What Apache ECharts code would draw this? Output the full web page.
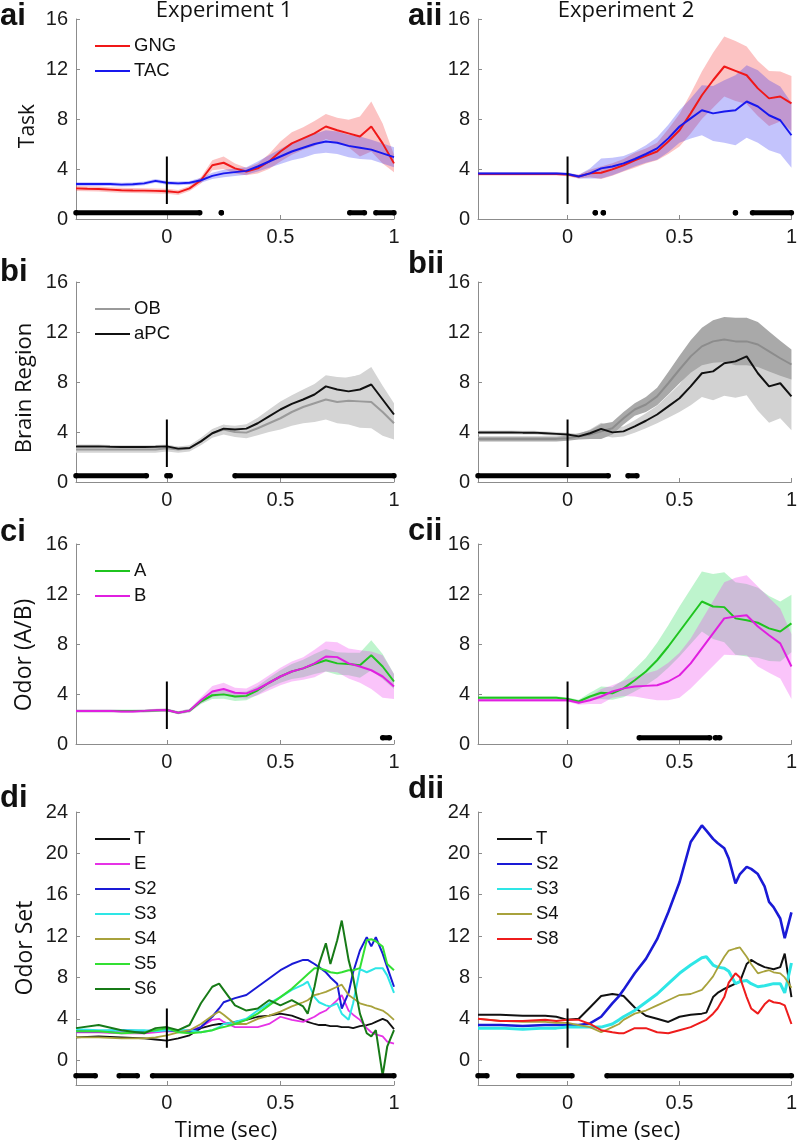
<!DOCTYPE html>
<html><head><meta charset="utf-8">
<script src="https://cdn.jsdelivr.net/npm/echarts@6/dist/echarts.min.js"></script>
<style>html,body{margin:0;padding:0;background:#fff}#c{width:800px;height:1143px}</style>
</head><body><div id="c"></div>
<script>
// ---------- DATA ----------
// time grid for rows a-c (sec)
const T = [-0.4,-0.35,-0.3,-0.25,-0.2,-0.15,-0.1,-0.05,0,0.05,0.1,0.15,0.2,0.25,0.3,0.35,0.4,0.45,0.5,0.55,0.6,0.65,0.7,0.75,0.8,0.85,0.9,0.95,1];
// time grid for row d (sec)
const TD = [-0.4,-0.3,-0.2,-0.1,-0.05,0,0.05,0.1,0.15,0.2,0.23,0.25,0.3,0.35,0.4,0.45,0.5,0.55,0.6,0.62,0.65,0.67,0.7,0.72,0.75,0.77,0.8,0.82,0.85,0.88,0.9,0.92,0.95,0.97,1];
const X_TICKS = [0, 0.5, 1];
const Y_TICKS = [0, 4, 8, 12, 16];
const Y_TICKS_D = [0, 4, 8, 12, 16, 20, 24];

// ai  (Experiment 1, Task)
const ai_GNG     = [2.45,2.42,2.4,2.35,2.3,2.28,2.27,2.25,2.22,2.13,2.45,3.1,4.3,4.5,4.05,3.8,4.05,4.6,5.4,6.05,6.45,6.85,7.4,7.1,6.85,6.6,7.4,6.05,4.45];
const ai_GNG_sem = [0.2,0.2,0.2,0.2,0.2,0.2,0.2,0.2,0.2,0.2,0.2,0.25,0.4,0.5,0.4,0.3,0.4,0.6,0.8,0.9,0.9,1.0,1.0,1.0,1.1,1.6,2.0,1.6,0.7];
const ai_TAC     = [2.8,2.8,2.8,2.8,2.75,2.78,2.85,3.05,2.9,2.85,2.9,3.1,3.45,3.65,3.75,3.85,4.2,4.6,5.0,5.4,5.7,6.0,6.2,6.1,5.85,5.7,5.55,5.25,4.95];
const ai_TAC_sem = [0.15,0.15,0.15,0.15,0.15,0.15,0.15,0.15,0.15,0.15,0.15,0.2,0.25,0.3,0.3,0.3,0.4,0.5,0.6,0.7,0.8,0.8,0.9,0.9,0.9,0.9,0.8,0.8,0.8];
// aii (Experiment 2, Task)
const aii_GNG     = [3.6,3.6,3.6,3.6,3.6,3.6,3.6,3.6,3.55,3.4,3.65,3.7,3.97,4.3,4.7,5.05,5.4,6.2,7.1,8.45,9.9,11.1,12.2,11.85,11.5,10.45,9.65,9.8,9.25];
const aii_GNG_sem = [0.12,0.12,0.12,0.12,0.12,0.12,0.12,0.12,0.12,0.15,0.3,0.5,0.5,0.5,0.6,0.6,0.7,1.0,1.3,1.6,1.9,2.2,2.4,2.4,2.3,2.2,2.2,2.0,2.2];
const aii_TAC     = [3.65,3.65,3.65,3.65,3.65,3.65,3.65,3.65,3.6,3.4,3.65,4.05,4.2,4.45,4.8,5.2,5.65,6.45,7.4,8.05,8.7,8.45,8.6,8.7,9.4,9.0,8.3,7.9,6.7];
const aii_TAC_sem = [0.1,0.1,0.1,0.1,0.1,0.1,0.1,0.1,0.1,0.15,0.4,0.8,0.7,0.6,0.6,0.7,0.9,1.1,1.3,1.6,2.0,2.2,2.5,2.8,2.9,2.9,2.8,2.7,2.6];
// bi (Experiment 1, Brain Region)
const bi_OB      = [2.6,2.6,2.6,2.6,2.6,2.6,2.6,2.6,2.7,2.6,2.7,3.25,3.9,4.2,4.0,3.95,4.3,4.7,5.1,5.6,6.0,6.3,6.6,6.4,6.5,6.45,6.4,5.6,4.7];
const bi_OB_sem  = [0.25,0.25,0.25,0.25,0.25,0.25,0.25,0.25,0.25,0.25,0.25,0.3,0.35,0.4,0.4,0.45,0.55,0.7,0.9,1.1,1.3,1.5,1.6,1.7,1.9,2.1,2.1,1.9,1.3];
const bi_aPC     = [2.85,2.85,2.85,2.82,2.8,2.8,2.8,2.82,2.85,2.67,2.72,3.25,3.9,4.27,4.2,4.27,4.7,5.25,5.8,6.25,6.6,7.0,7.65,7.4,7.25,7.4,7.8,6.6,5.4];
const bi_aPC_sem = [0.15,0.15,0.15,0.15,0.15,0.15,0.15,0.15,0.15,0.15,0.15,0.2,0.3,0.3,0.3,0.35,0.45,0.55,0.65,0.7,0.8,0.85,0.9,1.0,1.1,1.2,1.4,1.1,0.9];
// bii (Experiment 2, Brain Region)
const bii_OB      = [3.45,3.45,3.45,3.45,3.45,3.45,3.45,3.45,3.5,3.65,3.8,4.05,4.3,5.1,5.8,6.2,6.85,7.9,9.0,10.05,10.85,11.25,11.4,11.25,11.25,11.0,10.45,9.9,9.4];
const bii_OB_sem  = [0.2,0.2,0.2,0.2,0.2,0.2,0.2,0.2,0.2,0.25,0.35,0.6,0.5,0.5,0.5,0.6,0.7,0.9,1.1,1.3,1.5,1.7,1.8,1.9,1.9,1.8,1.6,1.4,1.2];
const bii_aPC     = [3.97,3.97,3.97,3.97,3.95,3.95,3.9,3.85,3.8,3.65,3.9,4.25,3.97,4.05,4.45,4.9,5.4,6.05,6.7,7.65,8.7,8.85,9.5,9.65,10.05,8.7,7.65,7.9,6.85];
const bii_aPC_sem = [0.15,0.15,0.15,0.15,0.15,0.15,0.15,0.15,0.15,0.2,0.3,0.5,0.4,0.4,0.5,0.6,0.7,0.9,1.1,1.5,1.9,2.3,2.6,2.9,3.1,3.0,2.9,2.8,2.7];
// ci (Experiment 1, Odor A/B)
const ci_A     = [2.65,2.65,2.65,2.65,2.65,2.65,2.65,2.68,2.72,2.5,2.67,3.4,3.9,3.97,3.8,3.85,4.3,4.9,5.4,5.8,6.05,6.4,6.7,6.45,6.4,6.3,7.1,6.2,5.0];
const ci_A_sem = [0.12,0.12,0.12,0.12,0.12,0.12,0.12,0.12,0.12,0.12,0.15,0.2,0.3,0.35,0.35,0.35,0.35,0.4,0.5,0.6,0.7,0.8,0.9,0.9,0.9,1.0,1.2,1.0,0.6];
const ci_B     = [2.65,2.65,2.65,2.65,2.6,2.6,2.65,2.7,2.72,2.5,2.67,3.5,4.2,4.4,4.1,4.05,4.4,4.9,5.4,5.8,6.05,6.45,7.0,6.95,6.45,6.2,5.9,5.4,4.6];
const ci_B_sem = [0.12,0.12,0.12,0.12,0.12,0.12,0.12,0.12,0.12,0.12,0.15,0.25,0.45,0.5,0.4,0.4,0.5,0.6,0.7,0.8,0.9,1.1,1.2,1.2,1.2,1.3,1.5,1.7,1.0];
// cii (Experiment 2, Odor A/B)
const cii_A     = [3.7,3.7,3.7,3.7,3.7,3.7,3.7,3.7,3.6,3.4,3.8,4.1,4.05,4.45,5.1,5.8,6.7,7.8,9.0,10.2,11.4,11.0,10.95,10.05,9.9,9.7,9.25,9.0,9.65];
const cii_A_sem = [0.12,0.12,0.12,0.12,0.12,0.12,0.12,0.12,0.12,0.15,0.3,0.5,0.5,0.7,0.9,1.1,1.4,1.7,2.0,2.2,2.4,2.6,2.8,2.9,2.9,2.8,2.6,2.4,2.3];
const cii_B     = [3.5,3.5,3.5,3.5,3.5,3.5,3.5,3.5,3.5,3.3,3.5,3.8,4.2,4.45,4.6,4.65,4.7,5.0,5.5,6.45,7.65,8.85,10.05,10.2,10.3,9.4,8.7,8.05,6.2];
const cii_B_sem = [0.12,0.12,0.12,0.12,0.12,0.12,0.12,0.12,0.12,0.15,0.3,0.6,0.5,0.6,0.8,1.0,1.2,1.5,1.8,2.0,2.3,2.6,2.9,3.1,3.2,3.2,3.0,2.8,2.6];
// di (Experiment 1, Odor Set)
const di_T  = [2.2,2.3,2.2,2.1,2.0,1.9,2.1,2.4,3.1,3.4,3.5,3.5,3.7,3.9,4.2,4.3,4.5,4.3,3.9,3.7,3.5,3.4,3.4,3.3,3.3,3.2,3.2,3.1,3.3,3.4,3.5,3.7,4.0,3.8,3.0];
const di_E  = [2.7,2.7,2.6,2.6,2.7,2.8,2.8,2.9,3.2,3.9,4.0,3.7,3.2,3.2,3.2,3.5,4.2,3.9,3.7,3.9,4.2,4.5,4.8,5.2,5.8,6.3,4.8,4.4,3.9,3.1,2.7,2.5,2.3,1.8,1.6];
const di_S2 = [2.8,2.8,2.9,2.8,2.9,2.9,2.8,2.7,3.2,4.2,5.0,5.6,6.0,6.3,7.1,7.9,8.7,9.3,9.7,9.7,9.3,9.0,8.5,8.0,7.4,5.0,6.5,8.5,10.6,11.9,11.0,11.9,10.3,9.0,7.1];
const di_S3 = [3.0,2.9,2.9,2.9,2.8,2.9,2.9,2.9,2.7,2.9,3.2,3.5,3.7,4.0,4.8,5.5,6.1,6.8,7.3,7.6,6.1,5.6,5.3,5.2,5.5,4.5,3.9,5.5,8.8,8.5,8.7,8.9,8.9,8.2,6.5];
const di_S4 = [2.2,2.2,2.1,2.1,2.2,2.4,2.7,2.9,3.5,4.3,4.7,4.4,3.5,3.5,4.0,4.3,4.7,5.2,5.6,5.8,6.3,6.4,6.6,6.8,7.1,7.3,6.3,6.0,5.5,5.3,5.2,5.0,4.8,4.5,3.9];
const di_S5 = [2.8,2.8,2.6,2.7,2.9,3.1,2.7,2.6,2.7,2.9,3.1,3.2,3.5,3.9,4.5,5.3,6.1,6.9,7.9,8.3,8.9,8.9,8.7,8.5,8.4,8.5,8.7,8.7,8.9,11.6,11.7,11.5,11.0,9.3,8.7];
const di_S6 = [3.1,3.4,2.9,2.6,3.1,3.2,2.9,3.4,5.5,7.1,7.4,6.8,5.3,4.8,5.0,5.8,5.3,5.8,5.2,4.5,7.1,9.3,11.3,9.3,11.6,13.5,9.7,8.0,4.5,2.6,2.3,2.9,-1.5,1.3,2.9];
// dii (Experiment 2, Odor Set)
const dii_T  = [4.4,4.4,4.3,4.3,4.2,3.9,4.0,5.1,6.2,6.4,6.3,6.2,5.1,4.3,4.0,3.7,4.2,4.4,4.5,4.6,6.1,6.5,6.9,7.1,7.4,7.6,9.3,9.7,9.3,9.0,8.9,8.8,9.0,10.3,6.1];
const dii_S2 = [3.4,3.4,3.3,3.4,3.4,3.4,3.4,3.55,4.2,5.5,6.2,6.8,8.4,9.8,11.7,14.3,17.2,21.1,22.7,22.2,21.4,21.0,20.5,19.5,17.1,18.0,18.7,18.5,18.0,16.8,15.3,14.8,13.7,11.8,14.3];
const dii_S3 = [3.1,3.1,3.0,3.1,3.1,3.2,3.2,3.2,3.2,3.5,3.9,4.2,4.8,5.6,6.4,7.4,8.4,9.2,9.9,10.0,9.2,9.0,8.9,8.6,7.4,7.6,7.7,7.4,7.1,7.2,7.3,7.4,7.4,6.5,9.4];
const dii_S4 = [4.0,3.8,3.7,3.7,3.6,3.6,3.4,3.2,2.7,3.2,3.5,3.9,4.5,4.8,5.3,5.8,6.3,6.4,6.8,7.3,8.1,8.9,10.0,10.6,10.8,10.9,10.0,9.3,8.4,8.6,8.7,8.5,8.4,8.0,7.0];
const dii_S8 = [4.0,3.8,3.8,3.9,3.8,3.9,3.9,3.5,2.9,2.7,2.6,2.6,3.1,3.1,2.7,2.6,2.9,3.2,3.7,3.9,4.5,5.0,6.1,7.5,8.4,8.0,6.1,5.0,4.5,5.4,5.8,5.6,5.5,5.3,3.5];
// significance intervals [start, end] (sec)
const sig_ai  = [[-0.4,0.145],[0.24,0.24],[0.805,0.87],[0.92,1.0]];
const sig_aii = [[0.124,0.124],[0.16,0.16],[0.75,0.75],[0.826,1.0]];
const sig_bi  = [[-0.4,-0.09],[0,0.015],[0.3,1.0]];
const sig_bii = [[-0.4,0.182],[0.27,0.31]];
const sig_ci  = [[0.95,0.98]];
const sig_cii = [[0.32,0.635],[0.66,0.68]];
const sig_di  = [[-0.4,-0.315],[-0.21,-0.13],[-0.063,1.0]];
const sig_dii = [[-0.4,-0.36],[-0.218,0.02],[0.176,1.0]];
const SIG_Y = 0.5, SIG_Y_D = -1.5;
const ONSET = [1.2, 5];

// ---------- LAYOUT / STYLE ----------
const COLS = [76, 478], W = 318;
const ROWS = [{top:19,h:200},{top:282,h:200},{top:544,h:200},{top:812,h:273}];
const TICK_FONT = '"Liberation Sans", Arial, sans-serif';

const panels = [
 {col:0,row:0,t:T,ymin:0,ymax:16,ticks:Y_TICKS,sig:sig_ai,sigY:SIG_Y,lines:[
   {name:'GNG',m:ai_GNG,s:ai_GNG_sem,c:'#f01818',b:'rgba(245,40,40,0.28)',w:2},
   {name:'TAC',m:ai_TAC,s:ai_TAC_sem,c:'#1818ee',b:'rgba(40,40,245,0.28)',w:2}]},
 {col:1,row:0,t:T,ymin:0,ymax:16,ticks:Y_TICKS,sig:sig_aii,sigY:SIG_Y,noLegend:true,lines:[
   {name:'GNG',m:aii_GNG,s:aii_GNG_sem,c:'#f01818',b:'rgba(245,40,40,0.28)',w:2},
   {name:'TAC',m:aii_TAC,s:aii_TAC_sem,c:'#1818ee',b:'rgba(40,40,245,0.28)',w:2}]},
 {col:0,row:1,t:T,ymin:0,ymax:16,ticks:Y_TICKS,sig:sig_bi,sigY:SIG_Y,lines:[
   {name:'OB',m:bi_OB,s:bi_OB_sem,c:'#9a9a9a',b:'#d4d4d4',w:2},
   {name:'aPC',m:bi_aPC,s:bi_aPC_sem,c:'#111111',b:'#d4d4d4',w:2}]},
 {col:1,row:1,t:T,ymin:0,ymax:16,ticks:Y_TICKS,sig:sig_bii,sigY:SIG_Y,noLegend:true,bandOrder:[1,0],lines:[
   {name:'OB',m:bii_OB,s:bii_OB_sem,c:'#8c8c8c',b:'#a9a9a9',w:2},
   {name:'aPC',m:bii_aPC,s:bii_aPC_sem,c:'#111111',b:'#d2d2d2',w:2}]},
 {col:0,row:2,t:T,ymin:0,ymax:16,ticks:Y_TICKS,sig:sig_ci,sigY:SIG_Y,lines:[
   {name:'A',m:ci_A,s:ci_A_sem,c:'#1fc41f',b:'rgba(40,220,90,0.3)',w:2},
   {name:'B',m:ci_B,s:ci_B_sem,c:'#e01fe0',b:'rgba(240,60,240,0.3)',w:2}]},
 {col:1,row:2,t:T,ymin:0,ymax:16,ticks:Y_TICKS,sig:sig_cii,sigY:SIG_Y,noLegend:true,lines:[
   {name:'A',m:cii_A,s:cii_A_sem,c:'#1fc41f',b:'rgba(40,220,90,0.3)',w:2},
   {name:'B',m:cii_B,s:cii_B_sem,c:'#e01fe0',b:'rgba(240,60,240,0.3)',w:2}]},
 {col:0,row:3,t:TD,ymin:-2.4,ymax:24,ticks:Y_TICKS_D,sig:sig_di,sigY:SIG_Y_D,lines:[
   {name:'T',m:di_T,c:'#111111',w:1.8},
   {name:'E',m:di_E,c:'#e632e6',w:1.8},
   {name:'S2',m:di_S2,c:'#1a1ad6',w:2},
   {name:'S3',m:di_S3,c:'#2ee6e6',w:2},
   {name:'S4',m:di_S4,c:'#a8a23c',w:1.8},
   {name:'S5',m:di_S5,c:'#33e033',w:2},
   {name:'S6',m:di_S6,c:'#177a17',w:2}]},
 {col:1,row:3,t:TD,ymin:-2.4,ymax:24,ticks:Y_TICKS_D,sig:sig_dii,sigY:SIG_Y_D,lines:[
   {name:'T',m:dii_T,c:'#111111',w:2},
   {name:'S2',m:dii_S2,c:'#1a1ad6',w:2.6},
   {name:'S3',m:dii_S3,c:'#2ee6e6',w:3},
   {name:'S4',m:dii_S4,c:'#a8a23c',w:1.8},
   {name:'S8',m:dii_S8,c:'#ee1c1c',w:2}]}
];

const option = {animation:false, backgroundColor:'#fff', grid:[], xAxis:[], yAxis:[], series:[], legend:[], graphic:[]};
const axisColor = '#8c8c8c';

panels.forEach((p,i)=>{
  const left = COLS[p.col], r = ROWS[p.row];
  option.grid.push({left, top:r.top, width:W, height:r.h});
  option.xAxis.push({type:'value', gridIndex:i, min:-0.4, max:1,
    axisLine:{onZero:false, lineStyle:{color:axisColor, width:1}},
    axisTick:{inside:true, length:4, customValues:X_TICKS, lineStyle:{color:axisColor}},
    axisLabel:{customValues:X_TICKS, fontSize:20, fontFamily:TICK_FONT, color:'#1a1a1a', margin:8},
    splitLine:{show:false}});
  option.yAxis.push({type:'value', gridIndex:i, min:p.ymin, max:p.ymax,
    axisLine:{show:true, onZero:false, lineStyle:{color:axisColor, width:1}},
    axisTick:{show:true, inside:true, length:4, customValues:p.ticks, lineStyle:{color:axisColor}},
    axisLabel:{customValues:p.ticks, fontSize:20, fontFamily:TICK_FONT, color:'#1a1a1a', margin:8},
    splitLine:{show:false}});
  // error bands
  const order = p.bandOrder || p.lines.map((_,k)=>k);
  order.forEach(k=>{
    const l = p.lines[k];
    if (!l.s) return;
    option.series.push({type:'custom', name:l.name+' band '+i, xAxisIndex:i, yAxisIndex:i, silent:true, z:1,
      data:[[0,0]],
      renderItem:(params, api)=>{
        const pts=[];
        for (let j=0;j<p.t.length;j++) pts.push(api.coord([p.t[j], l.m[j]+l.s[j]]));
        for (let j=p.t.length-1;j>=0;j--) pts.push(api.coord([p.t[j], l.m[j]-l.s[j]]));
        return {type:'polygon', shape:{points:pts}, style:{fill:l.b, stroke:null}};
      }});
  });
  // mean lines
  p.lines.forEach(l=>{
    option.series.push({type:'line', name:l.name, xAxisIndex:i, yAxisIndex:i, z:3, silent:true,
      symbol:'none', showSymbol:false,
      data:p.t.map((x,j)=>[x,l.m[j]]),
      lineStyle:{color:l.c, width:l.w}, itemStyle:{color:l.c}});
  });
  // stimulus onset marker
  option.series.push({type:'line', name:'onset '+i, xAxisIndex:i, yAxisIndex:i, z:5, silent:true,
    symbol:'none', data:[[0,ONSET[0]],[0,ONSET[1]]], lineStyle:{color:'#000', width:2}});
  // significance marks
  option.series.push({type:'custom', name:'sig '+i, xAxisIndex:i, yAxisIndex:i, z:6, silent:true,
    data:p.sig, clip:false,
    renderItem:(params, api)=>{
      const a = api.coord([api.value(0), p.sigY]), b = api.coord([api.value(1), p.sigY]);
      return {type:'group', children:[
        {type:'rect', shape:{x:a[0], y:a[1]-2.5, width:Math.max(b[0]-a[0],0), height:5}, style:{fill:'#000'}},
        {type:'circle', shape:{cx:a[0], cy:a[1], r:2.7}, style:{fill:'#000'}},
        {type:'circle', shape:{cx:b[0], cy:b[1], r:2.7}, style:{fill:'#000'}}]};
    }});
  if (!p.noLegend) {
    option.legend.push({orient:'vertical', left:left+19, top:r.top+17, padding:0,
      icon:'rect', itemWidth:35, itemHeight:2, itemGap:5, selectedMode:false,
      textStyle:{fontSize:18.5, fontFamily:TICK_FONT, color:'#111', lineHeight:20, padding:[0,0,0,-1]},
      data:p.lines.map(l=>l.name)});
  }
});

// texts
const txt = (text, x, y, font, opts={}) => ({type:'text', x, y, rotation:opts.rot||0, silent:true,
  style:{text, font, fill:'#111', textAlign:opts.align||'center', textVerticalAlign:'middle'}});
const PL = 'bold 31px "Liberation Sans", Arial, sans-serif';
const LF = (s) => s + 'px "Open Sans", sans-serif';
option.graphic = [
  txt('ai', 0, 16, PL, {align:'left'}), txt('aii', 408, 16, PL, {align:'left'}),
  txt('bi', 0, 272, PL, {align:'left'}), txt('bii', 408, 264, PL, {align:'left'}),
  txt('ci', 0, 532, PL, {align:'left'}), txt('cii', 408, 531, PL, {align:'left'}),
  txt('di', 0, 798, PL, {align:'left'}), txt('dii', 408, 789, PL, {align:'left'}),
  txt('Experiment 1', 224, 11, LF(22)), txt('Experiment 2', 626, 11, LF(22)),
  txt('Task', 28, 126, LF(21), {rot:Math.PI/2}),
  txt('Brain Region', 25, 388, LF(22), {rot:Math.PI/2}),
  txt('Odor (A/B)', 24, 655, LF(23), {rot:Math.PI/2}),
  txt('Odor Set', 25, 948, LF(23), {rot:Math.PI/2}),
  txt('Time (sec)', 226, 1131, LF(22)), txt('Time (sec)', 629, 1131, LF(22))
];

const chart = echarts.init(document.getElementById('c'), null, {renderer:'canvas'});
chart.setOption(option);
</script>
</body></html>
